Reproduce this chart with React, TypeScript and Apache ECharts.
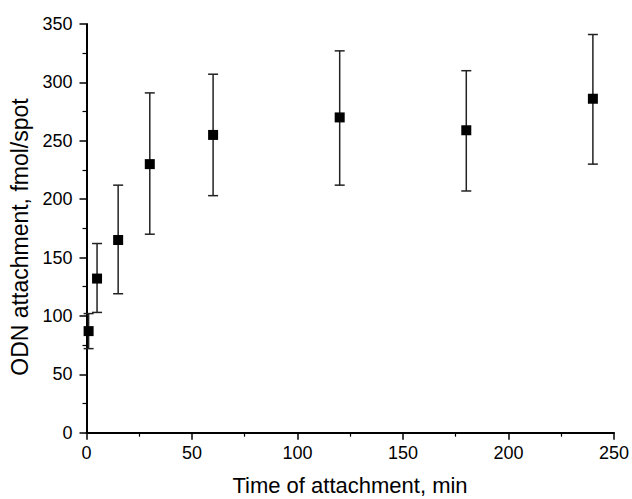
import React, { useEffect, useRef } from "react";
import * as echarts from "echarts";

const timeMin = [1, 5, 15, 30, 60, 120, 180, 240];
const attachment = [87, 132, 165, 230, 255, 270, 259, 286];
const errLow = [72, 103, 119, 170, 203, 212, 207, 230];
const errHigh = [102, 162, 212, 291, 307, 327, 310, 341];

const xTitle = "Time of attachment, min";
const yTitle = "ODN attachment, fmol/spot";
const FONT = "'Liberation Sans', Arial, Helvetica, sans-serif";

export default function App() {
  const ref = useRef<HTMLDivElement>(null);
  useEffect(() => {
    if (!ref.current) return;
    const chart = echarts.init(ref.current, null, { renderer: "svg" });
    const axisCommon = {
      type: "value" as const,
      axisLine: { show: true, onZero: false, lineStyle: { color: "#000", width: 2 } },
      axisTick: { show: true, inside: false, length: 7, lineStyle: { color: "#000", width: 1.5 } },
      minorTick: { show: true, splitNumber: 2, length: 4, lineStyle: { color: "#000", width: 1.2 } },
      splitLine: { show: false },
      minorSplitLine: { show: false },
      axisLabel: { color: "#000", fontSize: 18, fontFamily: FONT },
    };
    chart.setOption({
      animation: false,
      backgroundColor: "#fff",
      grid: { left: 86.5, right: 17.3, top: 24, bottom: 66.3, containLabel: false },
      xAxis: {
        ...axisCommon,
        min: 0,
        max: 250,
        interval: 50,
        axisLabel: { ...axisCommon.axisLabel, margin: 11 },
      },
      yAxis: {
        ...axisCommon,
        min: 0,
        max: 350,
        interval: 50,
        axisLabel: { ...axisCommon.axisLabel, margin: 14 },
      },
      graphic: [
        {
          type: "text",
          x: 350,
          y: 485,
          style: {
            text: xTitle,
            fontSize: 22,
            fontFamily: FONT,
            fill: "#000",
            align: "center",
            verticalAlign: "middle",
          },
        },
        {
          type: "text",
          x: 20,
          y: 237,
          rotation: Math.PI / 2,
          style: {
            text: yTitle,
            fontSize: 23,
            fontFamily: FONT,
            fill: "#000",
            align: "center",
            verticalAlign: "middle",
          },
        },
      ],
      series: [
        {
          type: "custom",
          clip: false,
          data: timeMin.map((x, i) => [x, errLow[i], errHigh[i]]),
          encode: { x: 0, y: [1, 2] },
          renderItem: (params: any, api: any) => {
            const x = api.value(0);
            const lo = api.coord([x, api.value(1)]);
            const hi = api.coord([x, api.value(2)]);
            const cap = 5;
            const style = { stroke: "#222", lineWidth: 1.5 };
            return {
              type: "group",
              children: [
                { type: "line", shape: { x1: lo[0], y1: lo[1], x2: hi[0], y2: hi[1] }, style },
                { type: "line", shape: { x1: lo[0] - cap, y1: lo[1], x2: lo[0] + cap, y2: lo[1] }, style },
                { type: "line", shape: { x1: hi[0] - cap, y1: hi[1], x2: hi[0] + cap, y2: hi[1] }, style },
              ],
            };
          },
          z: 1,
        },
        {
          type: "scatter",
          symbol: "rect",
          symbolSize: 10,
          itemStyle: { color: "#000", opacity: 1 },
          data: timeMin.map((x, i) => [x, attachment[i]]),
          z: 2,
        },
      ],
    });
    return () => chart.dispose();
  }, []);
  return <div ref={ref} style={{ width: 632, height: 499, position: "absolute", left: 0, top: 0 }} />;
}
